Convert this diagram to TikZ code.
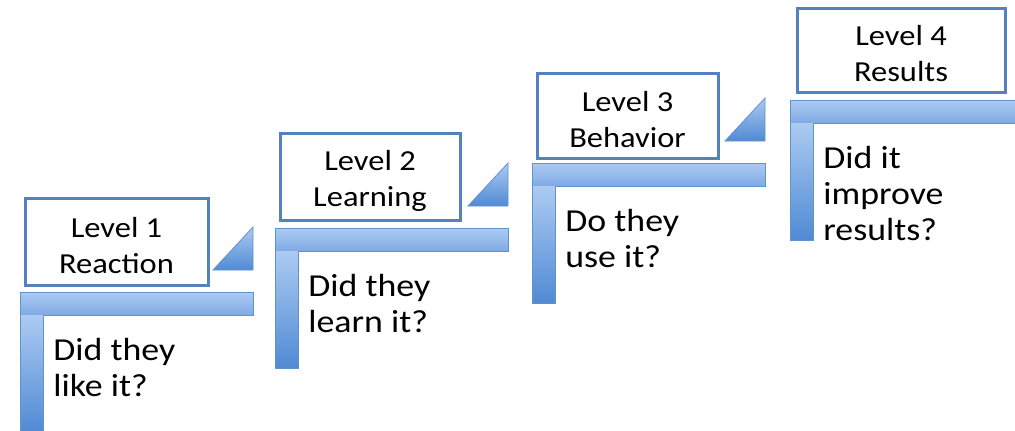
\documentclass[tikz,border=0pt]{standalone}
\usepackage{fontspec}
\setmainfont{Carlito}[FakeStretch=1.12]
\usepackage{tikz}

\definecolor{boxblue}{RGB}{84,130,190}
\definecolor{lightblue}{RGB}{172,203,242}
\definecolor{barblue}{RGB}{128,170,228}
\definecolor{darkblue}{RGB}{80,138,212}
\definecolor{edgeblue}{RGB}{98,146,206}

\begin{document}
\begin{tikzpicture}[x=0.5pt,y=-0.5pt,
  levelbox/.style={rectangle,draw=boxblue,line width=1.5pt,fill=white,inner sep=0pt},
  leveltext/.style={align=center,inner sep=0pt,yshift=-2pt,font=\fontsize{14.5}{18}\selectfont},
  question/.style={anchor=base west,align=left,inner sep=0pt,font=\fontsize{16}{18}\selectfont},
  barline/.style={draw=edgeblue,line width=0.5pt}]
\path[fill=white,use as bounding box] (0,0) rectangle (1015,430);

% the four steps
\foreach \cx/\cy in {20/292,275/228,532/163,790/100}{
  \shade[top color=lightblue,bottom color=barblue] (\cx,\cy) rectangle ++(233,23);
  \shade[top color=lightblue,bottom color=darkblue] (\cx,\cy+23) rectangle ++(23,117);
  \draw[barline] (\cx,\cy) -- ++(233,0) -- ++(0,23) -- ++(-210,0) -- ++(0,117) -- ++(-23,0) -- cycle;
}
% small wedges between the steps
\foreach \cx/\cy in {20/292,275/228,532/163}
  \shade[top color=lightblue,bottom color=darkblue,draw=edgeblue,line width=0.4pt] (\cx+193,\cy-22) -- (\cx+233,\cy-65) -- (\cx+233,\cy-22) -- cycle;

\node[levelbox,minimum width=91.5pt,minimum height=43.5pt] (lev1) at (116.5,241.5) {};
\node[levelbox,minimum width=90pt,minimum height=43.5pt] (lev2) at (370,176.5) {};
\node[levelbox,minimum width=90.5pt,minimum height=42.5pt] (lev3) at (627.5,115.5) {};
\node[levelbox,minimum width=104pt,minimum height=42pt] (lev4) at (901,50) {};
\node[leveltext] (t1) at (lev1) {Level 1\\Reaction};
\node[leveltext] (t2) at (lev2) {Level 2\\Learning};
\node[leveltext] (t3) at (lev3) {Level 3\\Behavior};
\node[leveltext] (t4) at (lev4) {Level 4\\Results};

% base anchor sits on the last line
\node[question] (q1) at (53,396) {Did they\\like it?};
\node[question] (q2) at (308,332) {Did they\\learn it?};
\node[question] (q3) at (565,267) {Do they\\use it?};
\node[question] (q4) at (823,240) {Did it\\improve\\results?};
\end{tikzpicture}
\end{document}
